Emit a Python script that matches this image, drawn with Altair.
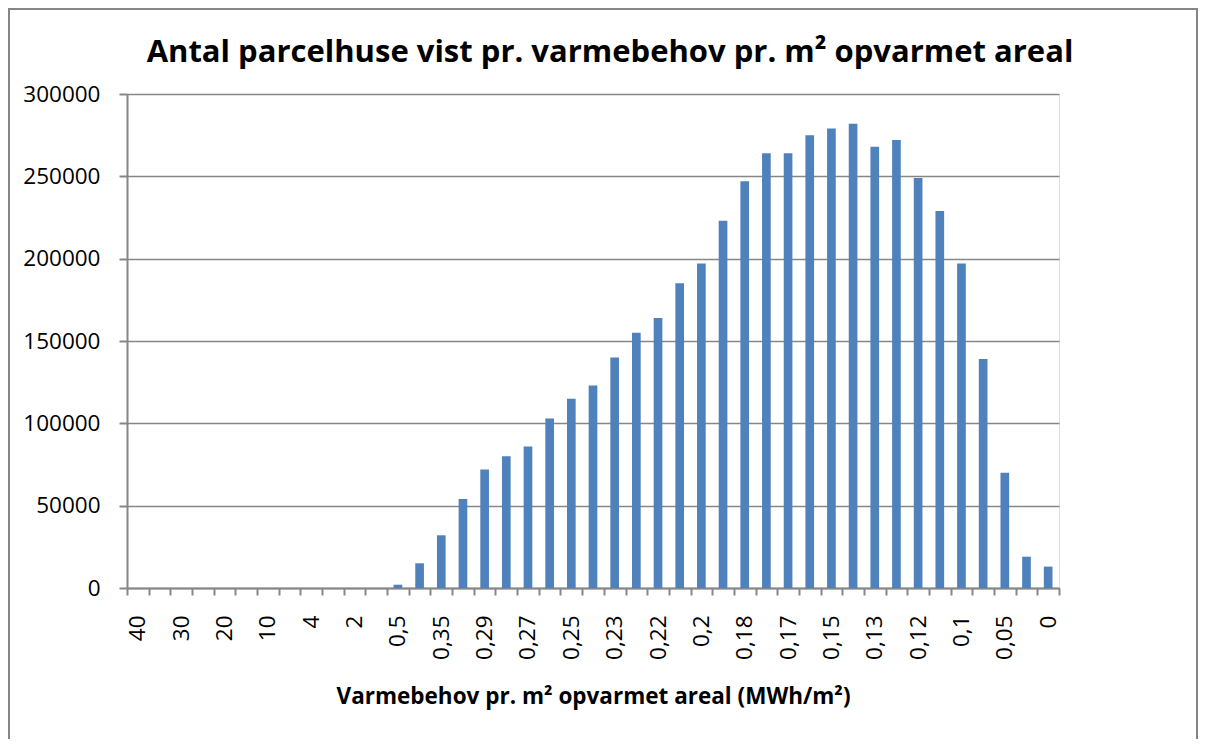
import altair as alt
import pandas as pd

categories = ["40", "35", "30", "25", "20", "15", "10", "5", "4", "3", "2", "1",
              "0,5", "0,4", "0,35", "0,3", "0,29", "0,28", "0,27", "0,26", "0,25", "0,24",
              "0,23", "0,225", "0,22", "0,21", "0,2", "0,19", "0,18", "0,175", "0,17", "0,16",
              "0,15", "0,14", "0,13", "0,125", "0,12", "0,11", "0,1", "0,075", "0,05", "0,025", "0"]
counts = [0, 0, 0, 0, 0, 0, 0, 0, 0, 0, 0, 0,
          2000, 15000, 32000, 54000, 72000, 80000, 86000, 103000, 115000, 123000,
          140000, 155000, 164000, 185000, 197000, 223000, 247000, 264000, 264000, 275000,
          279000, 282000, 268000, 272000, 249000, 229000, 197000, 139000, 70000, 19000, 13000]
shown_labels = categories[0::2]
y_ticks = [0, 50000, 100000, 150000, 200000, 250000, 300000]

df = pd.DataFrame({"kategori": categories, "antal": counts})

FONT = "Open Sans"
GRAY = "#868686"

label_list = "[" + ",".join("'" + s + "'" for s in shown_labels) + "]"

bars = alt.Chart(df).mark_bar(color="#4F81BD", width=alt.RelativeBandSize(0.4)).encode(
    x=alt.X("kategori:N", sort=categories,
            scale=alt.Scale(paddingInner=0, paddingOuter=0),
            axis=alt.Axis(title="Varmebehov pr. m² opvarmet areal (MWh/m²)",
                          labelAngle=-90, labelAlign="right", labelBaseline="middle",
                          labelFontSize=22.5, labelFont=FONT, labelColor="black",
                          labelPadding=20, labelOverlap=False,
                          labelExpr="indexof(" + label_list + ", datum.value) >= 0 ? datum.value : ''",
                          tickBand="extent", tickSize=7, tickColor=GRAY, tickWidth=2,
                          domainColor=GRAY, domainWidth=2,
                          titleFont=FONT, titleFontSize=22.5, titleFontWeight="bold",
                          titleColor="black", titlePadding=26)),
    y=alt.Y("antal:Q", scale=alt.Scale(domain=[0, 300000], nice=False),
            axis=alt.Axis(title=None, values=y_ticks, format="d",
                          labelFontSize=22.5, labelFont=FONT, labelColor="black",
                          labelPadding=19, tickSize=8, tickColor=GRAY, tickWidth=2,
                          domainColor=GRAY, domainWidth=2,
                          grid=True, gridColor=GRAY, gridWidth=1.5)),
)

border = alt.Chart(pd.DataFrame({"a": [0]})).mark_rect(
    fill=None, stroke=GRAY, strokeWidth=2, clip=False
).encode(x=alt.value(-118), x2=alt.value(1070), y=alt.value(-85), y2=alt.value(700))

chart = alt.layer(border, bars).properties(
    width=932, height=494,
    title=alt.TitleParams("Antal parcelhuse vist pr. varmebehov pr. m² opvarmet areal",
                          font=FONT, fontSize=31, fontWeight="bold", color="black",
                          anchor="middle", dx=17, offset=-61),
    autosize=alt.AutoSizeParams(type="none"),
    padding={"left": 119, "top": 86, "right": 140, "bottom": 151},
).configure_view(stroke=None).configure(background="white")

chart.save("out.html", embed_options={"renderer": "svg", "actions": False})
